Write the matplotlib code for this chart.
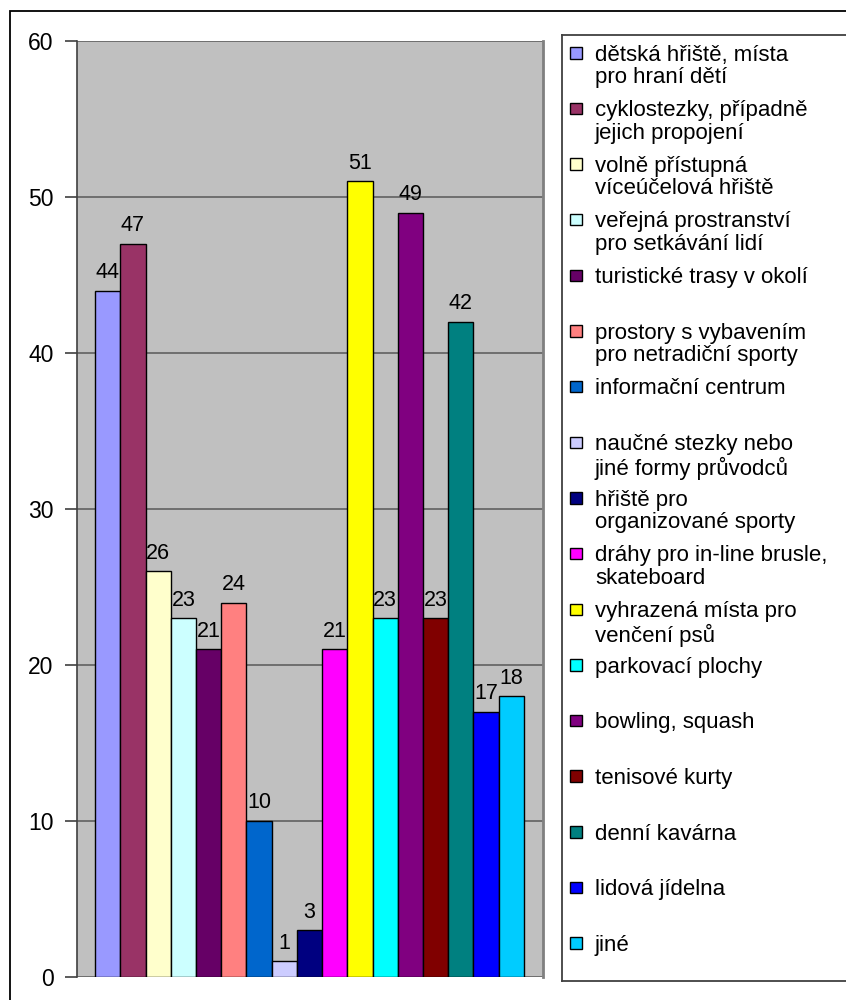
import matplotlib
matplotlib.use("Agg")
import matplotlib.pyplot as plt
from matplotlib.patches import Rectangle

plt.rcParams["font.family"] = ["Liberation Sans", "DejaVu Sans"]

categories = [
    "dětská hřiště, místa\npro hraní dětí",
    "cyklostezky, případně\njejich propojení",
    "volně přístupná\nvíceúčelová hřiště",
    "veřejná prostranství\npro setkávání lidí",
    "turistické trasy v okolí",
    "prostory s vybavením\npro netradiční sporty",
    "informační centrum",
    "naučné stezky nebo\njiné formy průvodců",
    "hřiště pro\norganizované sporty",
    "dráhy pro in-line brusle,\nskateboard",
    "vyhrazená místa pro\nvenčení psů",
    "parkovací plochy",
    "bowling, squash",
    "tenisové kurty",
    "denní kavárna",
    "lidová jídelna",
    "jiné",
]
values = [44, 47, 26, 23, 21, 24, 10, 1, 3, 21, 51, 23, 49, 23, 42, 17, 18]
colors = [
    "#9999FF", "#993366", "#FFFFCC", "#CCFFFF", "#660066", "#FF8080",
    "#0066CC", "#CCCCFF", "#000080", "#FF00FF", "#FFFF00", "#00FFFF",
    "#800080", "#800000", "#008080", "#0000FF", "#00CCFF",
]
y_ticks = [0, 10, 20, 30, 40, 50, 60]

W, H = 846, 1000
fig = plt.figure(figsize=(W / 100, H / 100), dpi=100)

# outer chart border (right/bottom edges run off the canvas)
fig.patches.append(Rectangle((10 / W, -0.1), 2, (H - 11) / H + 0.1,
                             transform=fig.transFigure, fill=False,
                             edgecolor="black", lw=1.3))

ax = fig.add_axes([77 / W, 1 - 977 / H, (543 - 77) / W, (977 - 41) / H])
ax.set_facecolor("#C0C0C0")
x = list(range(len(values)))
bars = ax.bar(x, values, width=1.0, color=colors, edgecolor="black",
              linewidth=1.0, zorder=3)
for xi, v in zip(x, values):
    ax.annotate(str(v), (xi, v), xytext=(0, 5.5), textcoords="offset points",
                ha="center", va="bottom", fontsize=15.5, zorder=4)

ax.set_ylim(0, 60)
ax.set_xlim(-0.5 - 0.72, len(values) - 0.5 + 0.76)
ax.set_yticks(y_ticks)
ax.set_xticks([])
ax.yaxis.grid(True, color="#606060", lw=1.2, zorder=1)
ax.tick_params(axis="y", length=9, width=1.2, color="#404040",
               labelsize=16.5, pad=8)
for side in ["top", "bottom"]:
    ax.spines[side].set_visible(False)
ax.spines["left"].set_color("#404040")
ax.spines["left"].set_linewidth(1.2)
ax.spines["right"].set_color("#808080")
ax.spines["right"].set_linewidth(2)

# legend box, built by hand to match the fixed Excel entry slots
leg_w = 320
leg = fig.add_axes([562 / W, 1 - 981 / H, leg_w / W, (981 - 35) / H])
leg.set_xlim(0, leg_w)
leg.set_ylim(981 - 35, 0)
leg.set_xticks([])
leg.set_yticks([])
for s in leg.spines.values():
    s.set_color("#404040")
    s.set_linewidth(1.3)
slot = 55.65
for i, (label, c) in enumerate(zip(categories, colors)):
    top = 12 + slot * i
    leg.add_patch(Rectangle((8, top), 11.5, 11.5, facecolor=c,
                            edgecolor="black", lw=1.0))
    leg.text(33, top - 2.5, label, va="top", ha="left",
             fontsize=16, linespacing=1.1)

fig.savefig("out.png", dpi=100)
